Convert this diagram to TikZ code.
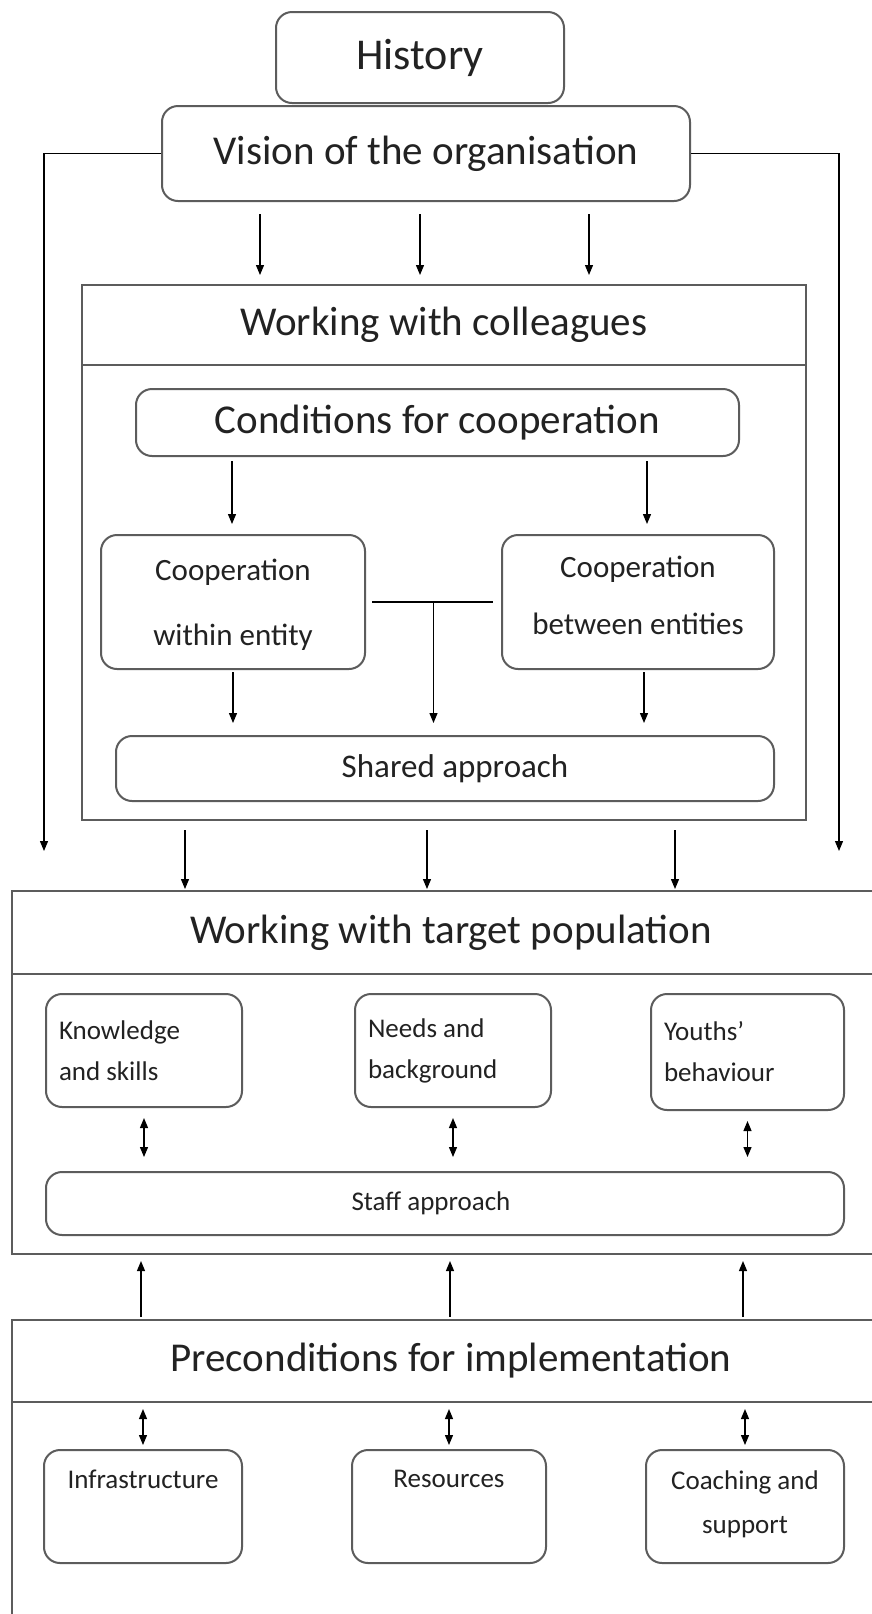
\documentclass[tikz,border=0pt]{standalone}
\usepackage{fontspec}
\setmainfont{Carlito}
\usetikzlibrary{arrows.meta, positioning, calc}

\definecolor{boxline}{HTML}{5C5C5C}
\definecolor{ink}{HTML}{222222}

\begin{document}
\begin{tikzpicture}[x=0.5pt, y=-0.5pt,
    rbox/.style={draw=boxline, line width=1pt, rounded corners=8pt, fill=white, text=ink, align=center, inner sep=0pt},
    bandbox/.style={draw=boxline, line width=1pt, text=ink, inner sep=0pt, minimum width=439pt},
    txtbig/.style={font=\fontsize{20.5}{24}\selectfont},
    txtmid/.style={font=\fontsize{15.5}{32.5}\selectfont},
    txtsmall/.style={font=\fontsize{13.5}{20.5}\selectfont},
    arrow/.style={draw=black, line width=0.6pt, -{Triangle[length=5pt, width=4pt]}},
    dbl/.style={draw=black, line width=0.6pt, {Triangle[length=5pt, width=4pt]}-{Triangle[length=5pt, width=4pt]}}
]
    \path[use as bounding box, fill=white] (0,0) rectangle (872,1614);
    \clip (0,0) rectangle (872,1614);

    % Top
    \node[rbox, font=\fontsize{22}{26}\selectfont, minimum width=144pt, minimum height=45.5pt] (history) at (420,57.5) {History};
    \node[rbox, txtbig, minimum width=264pt, minimum height=47.5pt] (vision) at (426,153.5) {Vision of the organisation};

    % Working with colleagues
    \node[bandbox, txtbig, minimum width=362pt, minimum height=40pt] (collhead) at (444,325) {Working with colleagues};
    \node[bandbox, minimum width=362pt, minimum height=227.5pt] (collbody) at (444,592.5) {};
    \node[rbox, txtbig, minimum width=301.5pt, minimum height=33.5pt] (cond) at (437.5,422.5) {Conditions for cooperation};
    \node[rbox, txtmid, minimum width=132pt, minimum height=67pt, text depth=-6pt] (within) at (233,602) {Cooperation\\within entity};
    \node[rbox, font=\fontsize{15.5}{28.5}\selectfont, minimum width=136pt, minimum height=67pt, text depth=7pt] (between) at (638,602) {Cooperation\\between entities};
    \node[rbox, font=\fontsize{16.5}{20}\selectfont, minimum width=329pt, minimum height=32.5pt] (shared) at (445,768.5) {\hspace*{10pt}Shared approach};

    % Working with target population
    \node[bandbox, txtbig, minimum height=41.5pt] (targethead) at (451,932.5) {Working with target population};
    \node[bandbox, minimum height=140pt] (targetbody) at (451,1114) {};
    \node[rbox, txtsmall, align=flush left, inner xsep=6.5pt, text width=85pt, minimum height=56.5pt] (knowledge) at (144,1050.5) {Knowledge\\and skills};
    \node[rbox, txtsmall, align=flush left, inner xsep=6.5pt, text width=85pt, minimum height=56.5pt] (needs) at (453,1050.5) {Needs and\\background};
    \node[rbox, txtsmall, align=flush left, inner xsep=6.5pt, text width=83.5pt, minimum height=58pt] (youths) at (747.5,1052) {Youths'\\behaviour};
    \node[rbox, txtsmall, minimum width=399pt, minimum height=31.5pt] (staff) at (445,1203.5) {Staff approach\hspace*{14pt}};

    % Preconditions
    \node[bandbox, txtbig, minimum height=41pt] (prehead) at (451,1361) {Preconditions for implementation};
    \node[bandbox, minimum height=119pt] (prebody) at (451,1521) {};
    \node[rbox, minimum width=99pt, minimum height=56.5pt] (infra) at (143,1506.5) {};
    \node[rbox, minimum width=97pt, minimum height=56.5pt] (resources) at (449,1506.5) {};
    \node[rbox, minimum width=99pt, minimum height=56.5pt] (coaching) at (745,1506.5) {};
    \node[txtsmall, text=ink, inner sep=0pt, anchor=north] (infratxt) at ([yshift=-10.5pt]infra.north) {Infrastructure};
    \node[txtsmall, text=ink, inner sep=0pt, anchor=north] (resourcestxt) at ([yshift=-10.5pt]resources.north) {Resources};
    \node[txtsmall, text=ink, inner sep=0pt, anchor=north, align=center, font=\fontsize{13.5}{22}\selectfont] (coachingtxt) at ([yshift=-10.5pt]coaching.north) {Coaching and\\support};

    % Connections
    \foreach \x in {260,420,589}
        \draw[arrow, shorten <=6pt, shorten >=4.5pt] (vision.south -| \x,0) -- (collhead.north -| \x,0);
    \draw[arrow, shorten >=19.5pt] (vision.west) -| (targethead.north -| 44,0);
    \draw[arrow, shorten >=19.5pt] (vision.east) -| (targethead.north -| 839,0);

    \draw[arrow, shorten <=2pt, shorten >=5pt] (cond.south -| 232,0) -- (within.north -| 232,0);
    \draw[arrow, shorten <=2pt, shorten >=5pt] (cond.south -| 647,0) -- (between.north -| 647,0);
    \coordinate (join) at ($(within.east)!0.5!(between.west)$);
    \draw[draw=black, line width=0.6pt, shorten <=3pt, shorten >=4pt] (within.east) -- (between.west);
    \draw[arrow, shorten >=6pt] (join) -- (shared.north -| join);
    \draw[arrow, shorten <=1pt, shorten >=6pt] (within.south) -- (shared.north -| within.south);
    \draw[arrow, shorten <=1pt, shorten >=6pt] (between.south -| 644,0) -- (shared.north -| 644,0);

    \foreach \x in {185,427,675}
        \draw[arrow, shorten <=4.5pt, shorten >=0.5pt] (collbody.south -| \x,0) -- (targethead.north -| \x,0);
    \foreach \b in {knowledge,needs,youths}
        \draw[dbl, shorten <=5pt, shorten >=7pt] (\b.south) -- (staff.north -| \b.south);

    \foreach \x in {141,450,743}
        \draw[arrow, shorten <=1pt, shorten >=3pt] (prehead.north -| \x,0) -- (targetbody.south -| \x,0);
    \foreach \b in {infra,resources,coaching}
        \draw[dbl, shorten <=3pt, shorten >=2pt] (prehead.south -| \b.north) -- (\b.north);
\end{tikzpicture}
\end{document}
